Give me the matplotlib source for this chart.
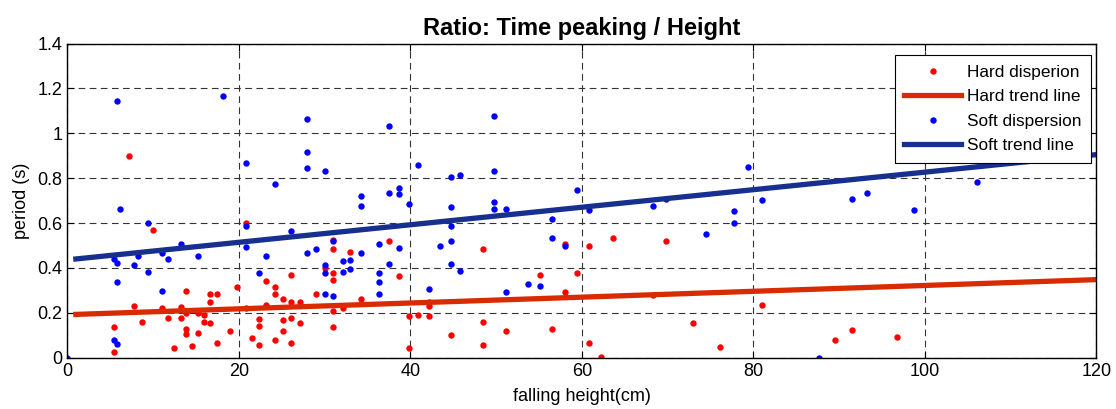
import matplotlib
matplotlib.use("Agg")
import matplotlib.pyplot as plt

plt.rcParams["font.family"] = ["Liberation Sans", "DejaVu Sans"]

# Hard dispersion (falling height cm, period s)
hard_x = [7.2, 10.0, 20.8, 26.1, 23.2, 24.2, 19.8, 13.8, 16.6, 17.4, 24.2, 29.0,
          16.6, 25.2, 26.1, 27.1, 7.8, 11.1, 13.2, 20.8, 23.2, 13.8, 15.2, 15.9,
          11.7, 13.2, 22.3, 15.9, 16.6, 26.1, 25.2, 27.1, 8.7, 5.4, 13.8, 13.8,
          15.2, 19.0, 22.3, 25.2, 21.5, 24.2, 12.4, 14.5, 17.4, 22.3, 26.1, 5.4,
          37.5, 31.0, 31.0, 33.0, 48.5, 30.0, 31.0, 31.0, 38.7, 55.1, 34.2, 32.1,
          31.0, 42.2, 42.2, 39.8, 40.9, 42.2, 48.5, 31.0, 44.7, 51.1, 56.5, 48.5,
          39.8, 58.0, 60.8, 63.6, 69.8, 59.4, 58.0, 68.3, 81.0, 73.0, 60.8, 62.2,
          76.1, 89.5, 91.5, 96.8]
hard_y = [0.899, 0.569, 0.599, 0.370, 0.341, 0.316, 0.316, 0.298, 0.286, 0.286, 0.286, 0.286,
          0.249, 0.262, 0.250, 0.250, 0.231, 0.221, 0.227, 0.221, 0.233, 0.201, 0.201, 0.190,
          0.178, 0.178, 0.172, 0.159, 0.153, 0.178, 0.167, 0.153, 0.159, 0.135, 0.129, 0.105,
          0.111, 0.117, 0.141, 0.117, 0.087, 0.081, 0.044, 0.050, 0.064, 0.058, 0.064, 0.027,
          0.520, 0.526, 0.484, 0.473, 0.484, 0.400, 0.376, 0.345, 0.364, 0.370, 0.262, 0.221,
          0.207, 0.249, 0.231, 0.184, 0.190, 0.184, 0.159, 0.135, 0.099, 0.117, 0.129, 0.058,
          0.044, 0.508, 0.496, 0.532, 0.520, 0.376, 0.292, 0.280, 0.233, 0.153, 0.064, 0.003,
          0.046, 0.081, 0.123, 0.093]

# Soft dispersion
soft_x = [0.0, 5.8, 18.2, 28.0, 28.0, 28.0, 20.8, 24.2, 6.2, 9.4, 20.8, 26.1,
          20.8, 13.2, 11.1, 28.0, 29.0, 5.4, 5.8, 8.3, 11.7, 15.2, 7.8, 23.2,
          9.4, 5.8, 22.3, 11.1, 5.4, 5.8,
          30.0, 37.5, 49.8, 49.8, 40.9, 44.7, 45.8, 38.7, 38.7, 37.5, 34.2, 34.2,
          39.8, 44.7, 49.8, 49.8, 51.1, 44.7, 31.0, 36.3, 44.7, 38.7, 43.4, 34.2,
          33.0, 32.1, 30.0, 30.0, 33.0, 32.1, 37.5, 44.7, 45.8, 36.3, 36.3, 56.5,
          56.5, 30.0, 31.0, 36.3, 42.2, 51.1, 53.7, 55.1,
          59.4, 60.8, 68.3, 69.8, 79.4, 81.0, 77.7, 77.7, 74.5, 58.0, 87.7,
          91.5, 93.2, 98.7, 106.1]
soft_y = [0.0, 1.145, 1.164, 1.062, 0.917, 0.846, 0.868, 0.773, 0.664, 0.599, 0.587, 0.563,
          0.495, 0.508, 0.465, 0.467, 0.484, 0.440, 0.424, 0.453, 0.441, 0.453, 0.412, 0.453,
          0.382, 0.339, 0.376, 0.298, 0.081, 0.062,
          0.833, 1.031, 1.079, 0.833, 0.858, 0.803, 0.815, 0.756, 0.730, 0.736, 0.719, 0.676,
          0.683, 0.670, 0.695, 0.664, 0.664, 0.587, 0.520, 0.508, 0.520, 0.490, 0.496, 0.467,
          0.436, 0.430, 0.412, 0.376, 0.394, 0.382, 0.418, 0.418, 0.388, 0.376, 0.339, 0.616,
          0.532, 0.286, 0.274, 0.286, 0.304, 0.292, 0.327, 0.321,
          0.748, 0.656, 0.676, 0.707, 0.852, 0.701, 0.652, 0.599, 0.551, 0.496, 0.0,
          0.707, 0.736, 0.658, 0.784]

# Trend lines (end points)
trend_x = [1, 120]
hard_trend = [0.193, 0.348]
soft_trend = [0.440, 0.905]

fig = plt.figure(figsize=(11.16, 4.09), dpi=100)
ax = fig.add_axes([0.0603, 0.1254, 0.9222, 0.7682])

ax.plot(hard_x, hard_y, "o", color="#ff0000", markersize=4.6,
        markeredgewidth=0, label="Hard disperion")
ax.plot(trend_x, hard_trend, "-", color="#d92b02", linewidth=3.8,
        label="Hard trend line")
ax.plot(soft_x, soft_y, "o", color="#0000ff", markersize=4.6,
        markeredgewidth=0, label="Soft dispersion")
ax.plot(trend_x, soft_trend, "-", color="#172f8e", linewidth=3.8,
        label="Soft trend line")

ax.set_xlim(0, 120)
ax.set_ylim(0, 1.4)
ax.set_xticks([0, 20, 40, 60, 80, 100, 120])
ax.set_yticks([0, 0.2, 0.4, 0.6, 0.8, 1.0, 1.2, 1.4])
ax.set_yticklabels(["0", "0.2", "0.4", "0.6", "0.8", "1", "1.2", "1.4"])
ax.tick_params(direction="in", top=True, right=True, labelsize=13,
               length=5, width=0.8, pad=3.5)
ax.grid(True, color="#333333", linestyle=(0, (6, 4)), linewidth=0.8)
for s in ax.spines.values():
    s.set_linewidth(1.0)

ax.set_title("Ratio: Time peaking / Height", fontsize=17, fontweight="bold", pad=6)
ax.set_xlabel("falling height(cm)", fontsize=13, labelpad=6)
ax.set_ylabel("period (s)", fontsize=13, labelpad=5)

leg = ax.legend(loc="upper right", bbox_to_anchor=(0.9947, 0.9634),
                borderaxespad=0, fontsize=12.4, fancybox=False, framealpha=1,
                edgecolor="black", handlelength=3.3, handletextpad=0.35,
                labelspacing=0.55, borderpad=0.55)
leg.get_frame().set_linewidth(0.8)

fig.savefig("out.png", dpi=100)
